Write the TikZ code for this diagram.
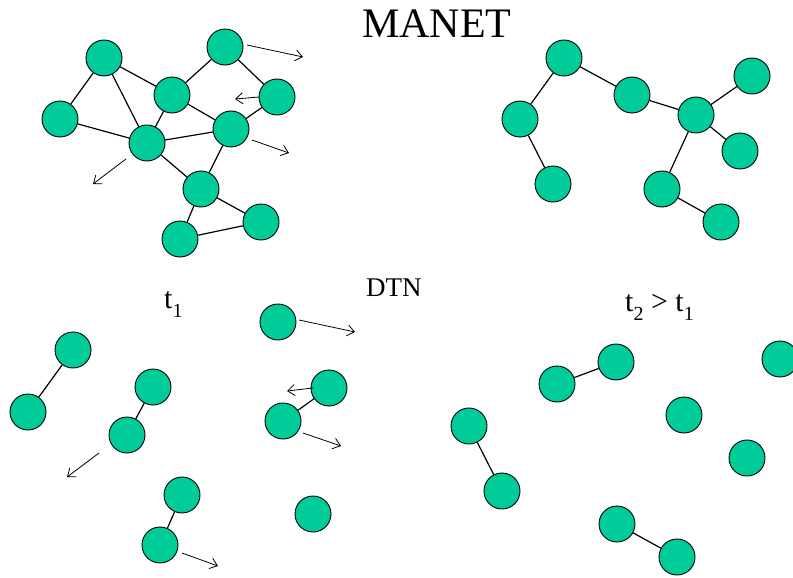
\documentclass[tikz,border=0pt]{standalone}
\usepackage{fontspec}
\setmainfont{Liberation Serif}
\usetikzlibrary{arrows.meta}
\definecolor{nodegreen}{RGB}{0,204,153}
\tikzset{
  mnode/.style={circle, draw=black, line width=0.9pt, fill=nodegreen, minimum size=36pt, inner sep=0pt},
  link/.style={draw=black, line width=1.2pt},
  move/.style={draw=black, line width=0.8pt, -{Straight Barb[length=7pt,width=11pt,line width=0.8pt]}},
  lbl/.style={anchor=base west, inner sep=0pt, text=black}
}
\newcommand{\subdigit}[1]{\raisebox{-0.3em}{\fontsize{20}{20}\selectfont #1}}
\begin{document}
\begin{tikzpicture}[x=1pt, y=-1pt]
\useasboundingbox (0,0) rectangle (793,578);
\fill[white] (0,0) rectangle (793,578);

% ---------- MANET at t1 ----------
\node[mnode] (A) at (104,58) {};
\node[mnode] (B) at (225,47) {};
\node[mnode] (C) at (172,95) {};
\node[mnode] (D) at (277,97) {};
\node[mnode] (E) at (60,119) {};
\node[mnode] (F) at (231,129) {};
\node[mnode] (G) at (147,143) {};
\node[mnode] (H) at (201,189) {};
\node[mnode] (I) at (261,222) {};
\node[mnode] (J) at (180,239) {};
\begin{scope}[on background layer/.style={}]
\end{scope}
\draw[link] (A) -- (E);
\draw[link] (A) -- (C);
\draw[link] (A) -- (G);
\draw[link] (B) -- (C);
\draw[link] (B) -- (D);
\draw[link] (D) -- (F);
\draw[link] (C) -- (G);
\draw[link] (C) -- (F);
\draw[link] (E) -- (G);
\draw[link] (G) -- (F);
\draw[link] (G) -- (H);
\draw[link] (F) -- (H);
\draw[link] (H) -- (I);
\draw[link] (H) -- (J);
\draw[link] (J) -- (I);

\coordinate (mb0) at (247,45);  \coordinate (mb1) at (303,57);
\coordinate (md0) at (259,97);  \coordinate (md1) at (235,99);
\coordinate (mf0) at (252,140); \coordinate (mf1) at (289,153);
\coordinate (mg0) at (126,159); \coordinate (mg1) at (93,184);
\draw[move] (mb0) -- (mb1);
\draw[move] (md0) -- (md1);
\draw[move] (mf0) -- (mf1);
\draw[move] (mg0) -- (mg1);

% ---------- MANET at t2 ----------
\node[mnode] (K) at (564,58) {};
\node[mnode] (L) at (520,119) {};
\node[mnode] (M) at (632,95) {};
\node[mnode] (N) at (752,76) {};
\node[mnode] (O) at (696,115) {};
\node[mnode] (P) at (740,151) {};
\node[mnode] (Q) at (553,184) {};
\node[mnode] (R) at (662,189) {};
\node[mnode] (S) at (721,222) {};
\draw[link] (K) -- (L);
\draw[link] (L) -- (Q);
\draw[link] (K) -- (M);
\draw[link] (M) -- (O);
\draw[link] (O) -- (N);
\draw[link] (O) -- (P);
\draw[link] (O) -- (R);
\draw[link] (R) -- (S);

% ---------- DTN at t1 ----------
\node[mnode] (a1) at (73,350) {};
\node[mnode] (a2) at (28,412) {};
\node[mnode] (b1) at (153,387) {};
\node[mnode] (b2) at (127,435) {};
\node[mnode] (c1) at (182,495) {};
\node[mnode] (c2) at (160,545) {};
\node[mnode] (d) at (278,322) {};
\node[mnode] (e1) at (329,388) {};
\node[mnode] (e2) at (283,421) {};
\node[mnode] (f) at (313,514) {};
\draw[link] (a1) -- (a2);
\draw[link] (b1) -- (b2);
\draw[link] (c1) -- (c2);
\draw[link] (e1) -- (e2);

\coordinate (dd0) at (299,320); \coordinate (dd1) at (355,332);
\coordinate (de0) at (313,388); \coordinate (de1) at (287,391);
\coordinate (dx0) at (303,433); \coordinate (dx1) at (341,446);
\coordinate (db0) at (99,453);  \coordinate (db1) at (67,477);
\coordinate (dc0) at (182,553); \coordinate (dc1) at (218,566);
\draw[move] (dd0) -- (dd1);
\draw[move] (de0) -- (de1);
\draw[move] (dx0) -- (dx1);
\draw[move] (db0) -- (db1);
\draw[move] (dc0) -- (dc1);

% ---------- DTN at t2 ----------
\node[mnode] (g1) at (557,384) {};
\node[mnode] (g2) at (616,362) {};
\node[mnode] (h1) at (469,426) {};
\node[mnode] (h2) at (502,491) {};
\node[mnode] (i) at (780,359) {};
\node[mnode] (j) at (684,415) {};
\node[mnode] (k) at (747,458) {};
\node[mnode] (l1) at (617,524) {};
\node[mnode] (l2) at (677,557) {};
\draw[link] (g1) -- (g2);
\draw[link] (h1) -- (h2);
\draw[link] (l1) -- (l2);

% ---------- labels ----------
\node[lbl, font=\fontsize{42}{42}\selectfont] (title) at (362,38) {MANET};
\node[lbl, font=\fontsize{30}{30}\selectfont] (tone) at (164,308) {t\subdigit{1}};
\node[lbl, font=\fontsize{27}{27}\selectfont] (dtn) at (366,296) {DTN};
\node[lbl, font=\fontsize{30}{30}\selectfont] (ttwo) at (625,311) {t\subdigit{2} > t\subdigit{1}};
\end{tikzpicture}
\end{document}
